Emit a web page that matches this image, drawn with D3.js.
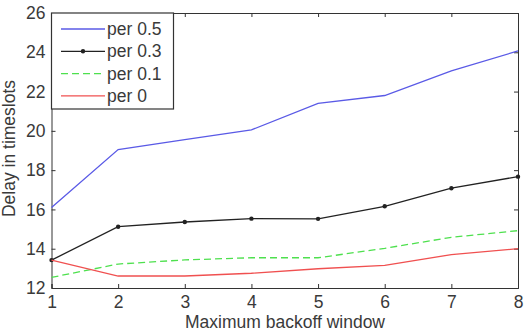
<!DOCTYPE html>
<html>
<head>
<meta charset="utf-8">
<script src="https://cdn.jsdelivr.net/npm/d3@7"></script>
<style>
  body { margin: 0; background: #fff; }
  text { font-family: "Liberation Sans", Arial, sans-serif; fill: #3a3a3a; }
</style>
</head>
<body>
<script>
const windows = [1, 2, 3, 4, 5, 6, 7, 8];
const per05 = [16.1, 19.05, 19.55, 20.05, 21.4, 21.8, 23.05, 24.07];
const per03 = [13.42, 15.12, 15.36, 15.53, 15.52, 16.16, 17.08, 17.67];
const per01 = [12.54, 13.22, 13.43, 13.54, 13.54, 14.02, 14.58, 14.92];
const per00 = [13.42, 12.61, 12.61, 12.75, 12.98, 13.15, 13.7, 14.0];
const yTicks = [12, 14, 16, 18, 20, 22, 24, 26];

const series = [
  { name: "per 0.5", values: per05, color: "#5a5ae6", dash: null, dots: false },
  { name: "per 0.3", values: per03, color: "#222", dash: null, dots: true },
  { name: "per 0.1", values: per01, color: "#4ee04e", dash: "7,4", dots: false },
  { name: "per 0", values: per00, color: "#f05050", dash: null, dots: false }
];

const w = 525, h = 332;
const pLeft = 51.5, pRight = 518, pTop = 13, pBottom = 288;
const fs = "17.5px";

const svg = d3.select("body").append("svg").attr("width", w).attr("height", h);

const x = d3.scaleLinear().domain([1, 8]).range([pLeft, pRight]);
const y = d3.scaleLinear().domain([12, 26]).range([pBottom, pTop]);

// axes, matlab style ticks pointing inward on all sides
svg.append("g").attr("transform", "translate(0," + pBottom + ")")
  .call(d3.axisBottom(x).tickValues(windows).tickSize(-4).tickPadding(8).tickFormat(d3.format("d")))
  .call(g => g.selectAll("text").style("font-size", fs));
svg.append("g").attr("transform", "translate(0," + pTop + ")")
  .call(d3.axisTop(x).tickValues(windows).tickSize(-4).tickFormat(""));
svg.append("g").attr("transform", "translate(" + pLeft + ",0)")
  .call(d3.axisLeft(y).tickValues(yTicks).tickSize(-4).tickPadding(6))
  .call(g => g.selectAll("text").style("font-size", fs));
svg.append("g").attr("transform", "translate(" + pRight + ",0)")
  .call(d3.axisRight(y).tickValues(yTicks).tickSize(-4).tickFormat(""));
svg.selectAll(".domain").attr("stroke", "#333");
svg.selectAll(".tick line").attr("stroke", "#333");
svg.selectAll(".tick text").attr("fill", "#3a3a3a");

const line = d3.line().x((d, i) => x(windows[i])).y(d => y(d));

series.forEach(s => {
  svg.append("path")
    .datum(s.values)
    .attr("d", line)
    .attr("fill", "none")
    .attr("stroke", s.color)
    .attr("stroke-width", 1.3)
    .attr("stroke-dasharray", s.dash);
  if (s.dots) {
    svg.selectAll(null)
      .data(s.values)
      .enter()
      .append("circle")
      .attr("cx", (d, i) => x(windows[i]))
      .attr("cy", d => y(d))
      .attr("r", 2.2)
      .attr("fill", s.color);
  }
});

// legend
const lg = svg.append("g");
lg.append("rect")
  .attr("x", pLeft).attr("y", pTop)
  .attr("width", 122).attr("height", 96)
  .attr("fill", "#fff").attr("stroke", "#333").attr("stroke-width", 1.2);
series.forEach((s, i) => {
  const yy = 29 + i * 22.3;
  lg.append("line")
    .attr("x1", 61).attr("x2", 105).attr("y1", yy).attr("y2", yy)
    .attr("stroke", s.color).attr("stroke-width", 1.3)
    .attr("stroke-dasharray", s.dash);
  if (s.dots) {
    lg.append("circle").attr("cx", 83).attr("cy", yy).attr("r", 2.2).attr("fill", s.color);
  }
  lg.append("text").attr("x", 107).attr("y", yy + 6).style("font-size", fs).text(s.name);
});

// axis titles
svg.append("text")
  .attr("x", 285).attr("y", 328)
  .attr("text-anchor", "middle").style("font-size", fs)
  .text("Maximum backoff window");
svg.append("text")
  .attr("transform", "translate(15,148.5) rotate(-90)")
  .attr("text-anchor", "middle").style("font-size", fs)
  .text("Delay in timeslots");
</script>
</body>
</html>
